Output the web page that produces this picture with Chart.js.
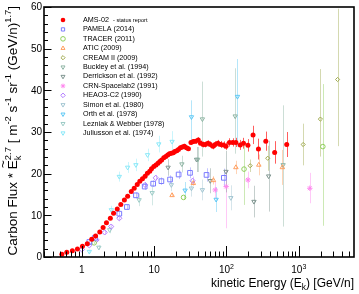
<!DOCTYPE html>
<html>
<head>
<meta charset="utf-8">
<script src="https://cdn.jsdelivr.net/npm/chart.js@4.4.1/dist/chart.umd.min.js"></script>
<style>
    html, body { margin: 0; padding: 0; background: #ffffff; }
    canvas { display: block; }
</style>
</head>
<body>
<canvas id="chart" width="359" height="294"></canvas>
<script>
const FONT = '"Liberation Sans", Arial, Helvetica, sans-serif';

// kinetic energy [GeV/n], flux * E^2.7, error (number or [down, up])
const amsE = [0.53, 0.62, 0.74, 0.87, 1.02, 1.19, 1.37, 1.55, 1.77, 1.97, 2.19, 2.48, 2.75, 3.09, 3.46,
    3.88, 4.3, 4.83, 5.3, 5.84, 6.34, 6.9, 7.5, 8.07, 8.7, 9.2, 9.9, 10.6, 11.3, 12.0, 12.7, 13.6, 14.5,
    15.4, 16.3, 17.3, 18.4, 19.3, 20.6, 21.7, 23.1, 24.6, 26.2, 28.0, 29.8, 32.3, 34.8, 37.4, 40.7, 43.8,
    47.6, 51.2, 55.6, 59.8, 65.1, 70, 76.2, 82.9, 91, 98.6, 110, 122, 135, 155, 172, 198, 233, 277, 350, 464, 681];
const amsF = [0.64, 1.12, 1.52, 1.92, 2.56, 3.2, 4.24, 5.04, 6.0, 7.1, 8.2, 9.3, 10.5, 11.5, 12.6,
    13.7, 14.6, 15.7, 16.5, 17.4, 18.2, 18.8, 19.4, 20.1, 20.6, 21.2, 21.7, 22.1, 22.5, 22.9, 23.3, 23.8, 24.1,
    24.5, 24.8, 24.9, 25.0, 25.3, 25.5, 25.8, 26.2, 26.4, 26.6, 26.2, 26.0, 27.5, 27.7, 27.8, 28.1, 27.3,
    27.0, 27.0, 27.3, 27.0, 26.6, 27.0, 27.3, 27.0, 26.9, 26.6, 27.5, 27.5, 27.5, 26.9, 27.3, 26.8, 29.3, 25.9, 27.8, 25.1, 27.0];
const amsErr = [0.1, 0.1, 0.1, 0.1, 0.1, 0.1, 0.1, 0.1, 0.15, 0.15, 0.15, 0.15, 0.2, 0.2, 0.2,
    0.2, 0.2, 0.2, 0.25, 0.25, 0.25, 0.25, 0.3, 0.3, 0.3, 0.3, 0.3, 0.3, 0.35, 0.35, 0.35, 0.4, 0.4,
    0.4, 0.4, 0.45, 0.45, 0.45, 0.5, 0.5, 0.5, 0.5, 0.55, 0.55, 0.55, 0.6, 0.6, 0.6, 0.65, 0.65,
    0.7, 0.7, 0.7, 0.75, 0.75, 0.8, 0.8, 0.85, 0.85, 0.9, 1.0, 1.0, 1.1, 1.2, 1.3, 1.5, 2.2, 2.5, 2.3, 2.7, 3.0];

const pamelaE = [1.27, 1.52, 3.3, 4.2, 5.6, 7.4, 9.7, 12.6, 16.6, 21.8, 31.3, 53, 92];
const pamelaF = [3.6, 4.6, 10.4, 12.0, 14.8, 16.9, 17.6, 18.2, 18.6, 19.8, 20.2, 19.7, 19.0];
const pamelaErr = [0.3, 0.3, 0.5, 0.6, 0.7, 0.8, 0.8, 0.9, 1.0, 1.1, 1.3, 1.6, 2.2];

const tracerE = [1.48, 25.5, 175, 2150];
const tracerF = [3.4, 14.3, 21.1, 26.5];
const tracerErr = [0.3, 0.6, [8.6, 6.3], [19, 15]];

const aticE = [17.7, 34.8, 66, 135, 280, 593];
const aticF = [14.8, 17.7, 18.4, 21.5, 22.1, 21.5];
const aticErr = [0.4, 0.6, 1.0, 1.6, 2.5, 4.2];

const creamE = [213, 372, 1150, 1990, 3440];
const creamF = [21.9, 23.7, 27.0, 33.1, 42.6];
const creamErr = [1.5, 3.0, 5.0, [9, 12], [16, 17]];

const buckleyE = [24.2, 40, 46.5, 132, 607];
const buckleyF = [22.3, 23.4, 33.1, 33.8, 22.1];
const buckleyErr = [2, 3, [9, 9], [9, 11.5], [14.8, 14.3]];

const derricksonE = [15.6, 38.6, 59.7, 98.6, 240, 383];
const derricksonF = [21.5, 23.4, 18.3, 20.5, 13.3, 19.4];
const derricksonErr = [2, 3, 3, 5, 3.8, 8.5];

const crnE = [70, 99, 198, 1420];
const crnF = [16.1, 16.9, 18.5, 16.5];
const crnErr = [2, [10, 4], 2, [3.6, 3.7]];

const heaoE = [1.0, 1.27, 1.6, 2.07, 2.55, 3.3, 7.5, 10.5, 34];
const heaoF = [1.8, 2.8, 4.1, 5.9, 7.3, 9.3, 17.3, 19.0, 18.3];
const heaoErr = [0.1, 0.15, 0.2, 0.3, 0.3, 0.4, 0.6, 0.7, 1.0];

const simonE = [17.3, 32.8, 46.5, 115];
const simonF = [17.3, 16.5, 16.1, 14.2];
const simonErr = [1.5, 2, 2.5, 3];

const orthE = [26.8, 32.8, 72, 142];
const orthF = [16.0, 33.6, 13.8, 38.5];
const orthErr = [2, [6, 4], 3, [12, 9]];

const lezniakE = [1.72, 2.43, 6.2, 9.4];
const lezniakF = [2.3, 6.5, 13.7, 15.4];
const lezniakErr = [0.5, 0.8, 1.5, [3, 2]];

const juliussonE = [1.27, 2.56, 3.3, 4.3, 5.6, 8.1, 11.6, 17.7];
const juliussonF = [1.3, 11.3, 19.3, 21.5, 22.1, 24.5, 27.1, 27.7];
const juliussonErr = [0.4, 1, 1.2, 1.3, 1.5, 1.5, 2, 2.5];

const xMajorTicks = [1, 10, 100, 1000];
const xTickLabels = [['1', ''], ['10', ''], ['10', '2'], ['10', '3']];
const yMajorTicks = [0, 10, 20, 30, 40, 50, 60];
const amsNote = '- status report';

function hexToRgba(hex, alpha) {
    const r = /^#?([a-f\d]{2})([a-f\d]{2})([a-f\d]{2})$/i.exec(hex);
    return `rgba(${parseInt(r[1], 16)}, ${parseInt(r[2], 16)}, ${parseInt(r[3], 16)}, ${alpha})`;
}

function makeSet(label, energies, fluxes, errors, color, style) {
    return {
        label: label,
        data: energies.map((e, i) => ({ x: e, y: fluxes[i], err: errors[i] })),
        pointStyle: style.shape,
        pointRadius: style.radius || 2.4,
        pointRotation: style.rotation || 0,
        pointBorderWidth: style.filled ? 0 : 1,
        pointBorderColor: color,
        pointBackgroundColor: style.filled ? color : 'rgba(255,255,255,0)',
        errColor: style.errColor || hexToRgba(color, 0.45)
    };
}

const datasets = [
    makeSet('AMS-02', amsE, amsF, amsErr, '#ff0000', { shape: 'circle', filled: true, radius: 2.5, errColor: 'rgba(255,40,40,0.75)' }),
    makeSet('PAMELA (2014)', pamelaE, pamelaF, pamelaErr, '#7b7bff', { shape: 'rect', radius: 3.3 }),
    makeSet('TRACER (2011)', tracerE, tracerF, tracerErr, '#8fce5a', { shape: 'circle', radius: 2.3 }),
    makeSet('ATIC (2009)', aticE, aticF, aticErr, '#ff9f60', { shape: 'triangle', radius: 2.6 }),
    makeSet('CREAM II (2009)', creamE, creamF, creamErr, '#a0aa50', { shape: 'rectRot', radius: 2.1 }),
    makeSet('Buckley et al. (1994)', buckleyE, buckleyF, buckleyErr, '#8fb5a5', { shape: 'triangle', radius: 2.5, rotation: 180 }),
    makeSet('Derrickson et al. (1992)', derricksonE, derricksonF, derricksonErr, '#7f9590', { shape: 'triangle', radius: 2.5, rotation: 180 }),
    makeSet('CRN-Spacelab2 (1991)', crnE, crnF, crnErr, '#ff88ee', { shape: 'star', radius: 2.7 }),
    makeSet('HEAO3-C2 (1990)', heaoE, heaoF, heaoErr, '#b27cff', { shape: 'rectRot', radius: 2.6 }),
    makeSet('Simon et al. (1980)', simonE, simonF, simonErr, '#a3c6d2', { shape: 'triangle', radius: 2.5, rotation: 180 }),
    makeSet('Orth et al. (1978)', orthE, orthF, orthErr, '#5cc8f5', { shape: 'triangle', radius: 2.5, rotation: 180 }),
    makeSet('Lezniak & Webber (1978)', lezniakE, lezniakF, lezniakErr, '#9ccbc6', { shape: 'triangle', radius: 2.5, rotation: 180 }),
    makeSet('Juliusson et al. (1974)', juliussonE, juliussonF, juliussonErr, '#8ae8f8', { shape: 'triangle', radius: 2.5, rotation: 180 })
];

// rich text pieces with sup/sub scripts
function richWidth(ctx, parts, size) {
    let w = 0;
    parts.forEach(p => {
        ctx.font = `${p.s ? size * 0.7 : size}px ${FONT}`;
        w += ctx.measureText(p.t).width;
    });
    return w;
}

function drawRich(ctx, parts, size, x, y) {
    parts.forEach(p => {
        ctx.font = `${p.s ? size * 0.7 : size}px ${FONT}`;
        let dy = 0;
        if (p.s === 'sup') dy = -size * 0.42;
        if (p.s === 'sub') dy = size * 0.28;
        ctx.fillText(p.t, x, y + dy);
        if (p.tilde) {
            ctx.fillText('~', x + ctx.measureText(p.t).width * 0.12, y - size * 0.72);
        }
        x += ctx.measureText(p.t).width;
    });
    return x;
}

const errorBarPlugin = {
    id: 'errorBars',
    beforeDatasetsDraw(chart) {
        const ctx = chart.ctx;
        const yScale = chart.scales.y;
        const area = chart.chartArea;
        ctx.save();
        ctx.beginPath();
        ctx.rect(area.left, area.top, area.right - area.left, area.bottom - area.top);
        ctx.clip();
        ctx.lineWidth = 1;
        for (let di = chart.data.datasets.length - 1; di >= 0; di--) {
            const ds = chart.data.datasets[di];
            const meta = chart.getDatasetMeta(di);
            ctx.strokeStyle = ds.errColor;
            meta.data.forEach((pt, i) => {
                const d = ds.data[i];
                const lo = Array.isArray(d.err) ? d.err[0] : d.err;
                const hi = Array.isArray(d.err) ? d.err[1] : d.err;
                const px = Math.round(pt.x) + 0.5;
                ctx.beginPath();
                ctx.moveTo(px, yScale.getPixelForValue(d.y - lo));
                ctx.lineTo(px, yScale.getPixelForValue(d.y + hi));
                ctx.stroke();
            });
        }
        ctx.restore();
    }
};

const frameAxesPlugin = {
    id: 'frameAxes',
    afterDraw(chart) {
        const ctx = chart.ctx;
        const area = chart.chartArea;
        const xs = chart.scales.x;
        const ys = chart.scales.y;
        ctx.save();
        ctx.strokeStyle = '#000000';
        ctx.fillStyle = '#000000';

        // ticks pointing into the frame
        ctx.lineWidth = 1;
        ctx.beginPath();
        for (let v = 0; v <= 60; v += 2) {
            const py = Math.round(ys.getPixelForValue(v)) + 0.5;
            const len = v % 10 === 0 ? 7.5 : 4;
            ctx.moveTo(area.left, py);
            ctx.lineTo(area.left + len, py);
        }
        for (let d = -1; d <= 3; d++) {
            for (let m = 1; m <= 9; m++) {
                const v = m * Math.pow(10, d);
                if (v < xs.min || v > xs.max) continue;
                const px = Math.round(xs.getPixelForValue(v)) + 0.5;
                const len = m === 1 ? 11 : 5.5;
                ctx.moveTo(px, area.bottom);
                ctx.lineTo(px, area.bottom - len);
            }
        }
        ctx.stroke();

        ctx.lineWidth = 1.6;
        ctx.strokeRect(area.left, area.top, area.right - area.left, area.bottom - area.top);

        // tick labels
        ctx.font = `10px ${FONT}`;
        ctx.textAlign = 'right';
        ctx.textBaseline = 'middle';
        yMajorTicks.forEach(v => {
            ctx.fillText(String(v), area.left - 2, ys.getPixelForValue(v) + 0.5);
        });
        ctx.textAlign = 'left';
        ctx.textBaseline = 'alphabetic';
        xMajorTicks.forEach((v, i) => {
            const parts = [{ t: xTickLabels[i][0] }, { t: xTickLabels[i][1], s: 'sup' }];
            const w = richWidth(ctx, parts, 10);
            drawRich(ctx, parts, 10, xs.getPixelForValue(v) - w / 2, 273);
        });

        // axis titles
        const xTitle = [{ t: 'kinetic Energy (E' }, { t: 'k', s: 'sub' }, { t: ') [GeV/n]' }];
        const xw = richWidth(ctx, xTitle, 12);
        drawRich(ctx, xTitle, 12, area.right - xw, 287);

        const ySize = 13.5;
        const yTitle = [
            { t: 'Carbon Flux * ' }, { t: 'E', tilde: true }, { t: 'k', s: 'sub' }, { t: '2.7', s: 'sup' },
            { t: ' [ m' }, { t: '-2', s: 'sup' }, { t: ' s' }, { t: '-1', s: 'sup' }, { t: ' sr' },
            { t: '-1', s: 'sup' }, { t: ' (GeV/n)' }, { t: '1.7', s: 'sup' }, { t: ']' }
        ];
        // sub and sup on the same E share one slot
        const yw = richWidth(ctx, yTitle, ySize) - richWidth(ctx, [{ t: 'k', s: 'sub' }], ySize);
        ctx.translate(17, 6);
        ctx.rotate(-Math.PI / 2);
        let x = -yw;
        yTitle.forEach(p => {
            if (p.s === 'sub') {
                drawRich(ctx, [p], ySize, x, 0);
            } else {
                x = drawRich(ctx, [p], ySize, x, 0);
            }
        });
        ctx.setTransform(1, 0, 0, 1, 0, 0);

        // legend
        chart.data.datasets.forEach((ds, i) => {
            const cy = 20 + i * 9.42;
            ctx.strokeStyle = ds.pointBorderColor;
            ctx.fillStyle = ds.pointBackgroundColor;
            ctx.lineWidth = ds.pointBorderWidth;
            Chart.helpers.drawPoint(ctx, {
                pointStyle: ds.pointStyle,
                rotation: ds.pointRotation,
                radius: Math.min(ds.pointRadius, 2.3),
                borderWidth: ds.pointBorderWidth
            }, 63, cy);
            ctx.fillStyle = '#000000';
            ctx.font = `7.2px ${FONT}`;
            ctx.textBaseline = 'middle';
            ctx.textAlign = 'left';
            ctx.fillText(ds.label, 83, cy);
            if (i === 0) {
                const w = ctx.measureText(ds.label).width;
                ctx.font = `5.6px ${FONT}`;
                ctx.fillText(amsNote, 83 + w + 4, cy);
            }
        });
        ctx.restore();
    }
};

new Chart(document.getElementById('chart'), {
    type: 'scatter',
    data: { datasets: datasets },
    options: {
        responsive: false,
        animation: false,
        devicePixelRatio: 1,
        layout: { padding: { left: 44, right: 2, top: 7, bottom: 37 } },
        plugins: {
            legend: { display: false },
            tooltip: { enabled: false }
        },
        scales: {
            x: { type: 'logarithmic', min: 0.3, max: 5800, display: false },
            y: { type: 'linear', min: 0, max: 60, display: false }
        }
    },
    plugins: [errorBarPlugin, frameAxesPlugin]
});
</script>
</body>
</html>
